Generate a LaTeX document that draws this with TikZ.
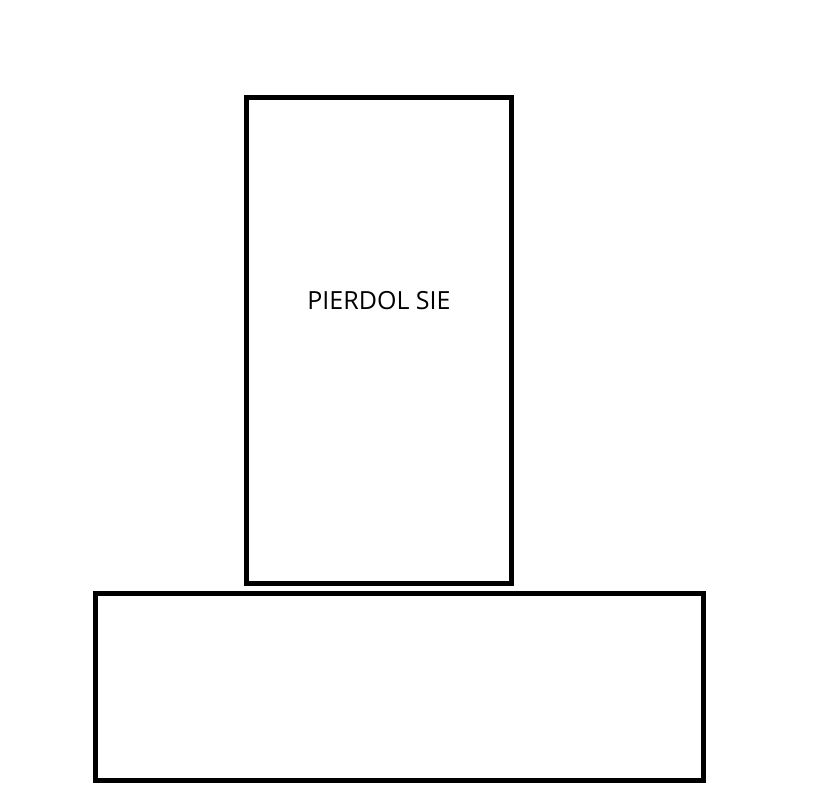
\documentclass[tikz,border=0pt]{standalone}
\usepackage{fontspec}
\setmainfont{Open Sans}
\begin{document}
\begin{tikzpicture}[x=1pt,y=-1pt,
  box/.style={draw=black,line width=5pt,fill=none},
  lbl/.style={font=\fontsize{25}{29}\selectfont,inner sep=0pt}]
\useasboundingbox (0,0) rectangle (819,811);
\draw[box] (246.5,97.5) rectangle (511.5,583.5);
\draw[box] (95.5,593.5) rectangle (703.5,780.5);
\node[lbl] (t) at (379,301) {PIERDOL SIE};
\end{tikzpicture}
\end{document}
